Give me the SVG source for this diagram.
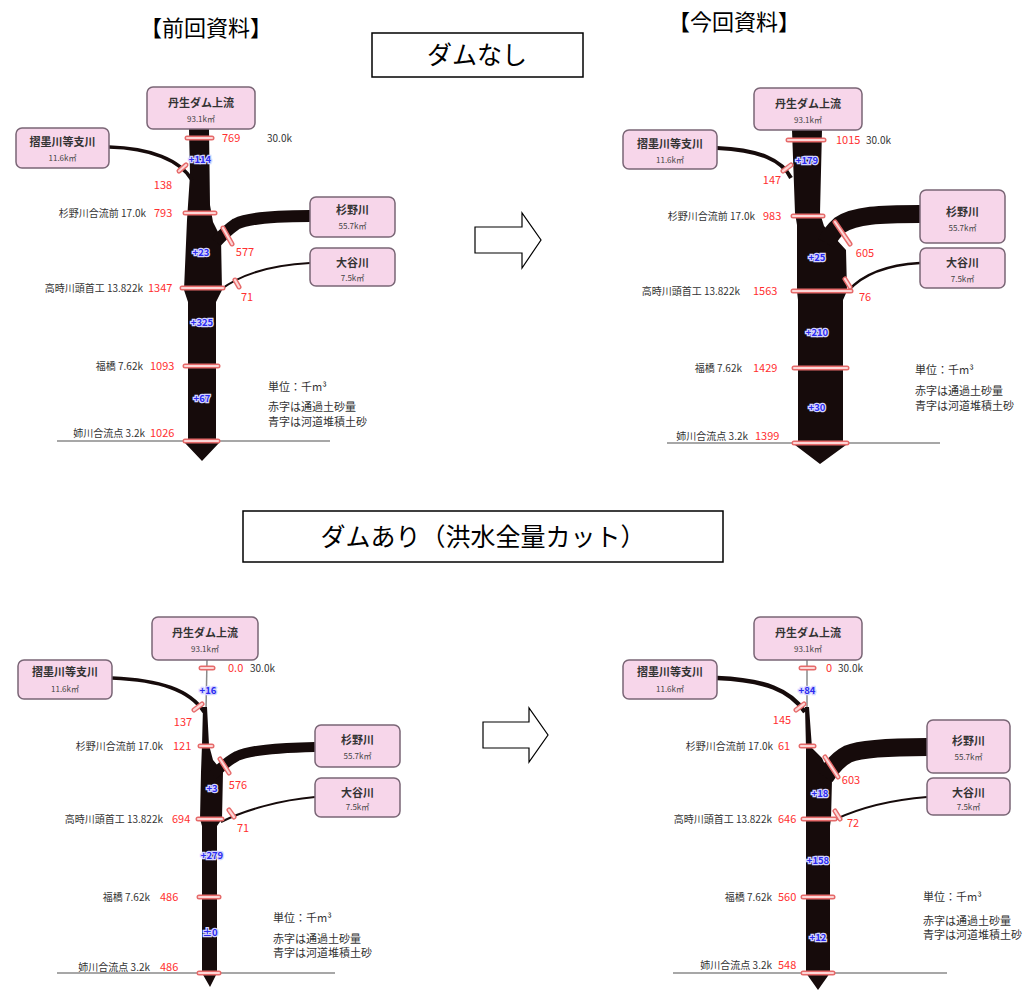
<svg xmlns="http://www.w3.org/2000/svg" width="1030" height="992" viewBox="0 0 1030 992">
<style>
text{font-family:"Noto Sans CJK JP","Noto Sans",sans-serif;}
.ttl{font-size:22px;fill:#000;}
.hb{font-size:25px;fill:#000;text-anchor:middle;}
.box{fill:#fff;stroke:#000;stroke-width:1.5;}
.nd{fill:#f7d6ea;stroke:#7a6676;stroke-width:1.5;}
.nn{font-size:11px;font-weight:bold;fill:#333;text-anchor:middle;}
.na{font-size:8px;fill:#444;text-anchor:middle;}
.st{font-size:10px;fill:#333;text-anchor:end;}
.k{font-size:10px;fill:#333;}
.r{font-size:11px;fill:#ff3030;}
.rc{font-size:11px;fill:#ff3030;text-anchor:middle;}
.b{font-size:9.5px;font-weight:bold;fill:#2a2af0;text-anchor:middle;stroke:#d4d4ff;stroke-width:2.5;paint-order:stroke;}
.lg{font-size:11px;fill:#333;}
.trunk{fill:#160b0b;}
.trib{fill:none;stroke:#160b0b;stroke-linecap:butt;}
.stem{stroke:#8a8a8a;stroke-width:1.5;}
.base{stroke:#8a8a8a;stroke-width:1.5;}
.t1{stroke:#e66a6a;stroke-width:5;stroke-linecap:round;}
.t2{stroke:#fcd6d6;stroke-width:2.2;stroke-linecap:round;}
.arw{fill:#fff;stroke:#000;stroke-width:1.2;}
</style>

<!-- headings -->
<g id="headings">
<text class="ttl" x="140" y="36">【前回資料】</text>
<text class="ttl" x="668" y="30">【今回資料】</text>
<g id="case-nodam"><rect class="box" x="372" y="33" width="211" height="44"/><text class="hb" x="477" y="64">ダムなし</text></g>
<g id="case-dam"><rect class="box" x="243" y="511" width="480" height="51"/><text class="hb" x="483" y="546">ダムあり（洪水全量カット）</text></g>
</g>

<!-- arrows -->
<g id="arrows">
<path class="arw" d="M475,227 L522,227 L522,213 L541,240 L522,268 L522,253 L475,253 Z"/>
<path class="arw" d="M483,722 L529,722 L529,708 L548,735 L529,762 L529,748 L483,748 Z"/>
</g>

<!-- ================= TOP LEFT ================= -->
<g id="tl">
<g id="tl-rivers">
<line class="base" x1="57" y1="441" x2="330" y2="441"/>
<polygon class="trunk" points="189,129 209,129 210,205 213,222 221,238 222,290 216,302 216,443 219,443 202,461 185,443 188,443 188,302 184,290 187,220 190,175"/>
<g id="tl-connectors">
<path class="trib" stroke-width="3.5" d="M109,147 C150,148 180,160 192,180"/>
<path class="trib" stroke-width="12" d="M310,216 C275,216 248,218 236,224 Q226,231 216,242"/>
<path class="trib" stroke-width="2" d="M310,263 C270,265 240,275 220,290"/>
</g>
<g id="tl-ticks">
<line class="t1" x1="187" y1="138" x2="212" y2="138"/><line class="t2" x1="187" y1="138" x2="212" y2="138"/>
<line class="t1" x1="185" y1="213" x2="215" y2="213"/><line class="t2" x1="185" y1="213" x2="215" y2="213"/>
<line class="t1" x1="182" y1="288" x2="223" y2="288"/><line class="t2" x1="182" y1="288" x2="223" y2="288"/>
<line class="t1" x1="185" y1="366" x2="218" y2="366"/><line class="t2" x1="185" y1="366" x2="218" y2="366"/>
<line class="t1" x1="185" y1="441" x2="218" y2="441"/><line class="t2" x1="185" y1="441" x2="218" y2="441"/>
<line class="t1" x1="179" y1="171" x2="186" y2="165"/><line class="t2" x1="179" y1="171" x2="186" y2="165"/>
<line class="t1" x1="223" y1="228" x2="232" y2="244"/><line class="t2" x1="223" y1="228" x2="232" y2="244"/>
<line class="t1" x1="235" y1="280" x2="239" y2="287"/><line class="t2" x1="235" y1="280" x2="239" y2="287"/>
</g>
</g>
<g id="tl-dam"><rect class="nd" x="147" y="87" width="108" height="42" rx="6"/><text class="nn" x="201" y="107">丹生ダム上流</text><text class="na" x="201" y="122">93.1k㎡</text></g>
<g id="tl-suzumi"><rect class="nd" x="16" y="128" width="93" height="40" rx="6"/><text class="nn" x="62.5" y="146">摺墨川等支川</text><text class="na" x="62.5" y="161">11.6k㎡</text></g>
<g id="tl-sugino"><rect class="nd" x="310" y="197" width="85" height="40" rx="6"/><text class="nn" x="352.5" y="214">杉野川</text><text class="na" x="352.5" y="229">55.7k㎡</text></g>
<g id="tl-otani"><rect class="nd" x="310" y="248" width="85" height="38" rx="6"/><text class="nn" x="352.5" y="267">大谷川</text><text class="na" x="352.5" y="281">7.5k㎡</text></g>
<g id="tl-labels">
<text class="r" x="222" y="142">769</text><text class="k" x="267" y="142">30.0k</text>
<text class="rc" x="163" y="189">138</text>
<text class="st" x="146" y="217">杉野川合流前 17.0k</text><text class="r" x="154" y="217">793</text>
<text class="rc" x="245" y="256">577</text>
<text class="rc" x="247" y="301">71</text>
<text class="st" x="143" y="292">高時川頭首工 13.822k</text><text class="r" x="148" y="292">1347</text>
<text class="st" x="143" y="370">福橋 7.62k</text><text class="r" x="150" y="370">1093</text>
<text class="st" x="145" y="437">姉川合流点 3.2k</text><text class="r" x="150" y="437">1026</text>
<text class="b" x="200" y="163">+114</text>
<text class="b" x="201" y="256">+23</text>
<text class="b" x="202" y="326">+325</text>
<text class="b" x="202" y="402">+67</text>
<text class="lg" x="268" y="391">単位：千m³</text>
<text class="lg" x="268" y="411">赤字は通過土砂量</text>
<text class="lg" x="268" y="426">青字は河道堆積土砂</text>
</g>
</g>

<!-- ================= TOP RIGHT ================= -->
<g id="tr">
<g id="tr-rivers">
<line class="base" x1="667" y1="443" x2="940" y2="443"/>
<polygon class="trunk" points="792,130 822,130 820,213 824,226 846,250 847,291 843,300 843,445 846,445 820,464 795,445 798,445 798,300 797,291 797,225 795,213"/>
<g id="tr-connectors">
<path class="trib" stroke-width="4" d="M717,148 C760,150 782,160 791,178"/>
<path class="trib" stroke-width="18" d="M920,214 C880,214 855,215 840,225 Q832,232 826,243"/>
<path class="trib" stroke-width="2.5" d="M920,263 C885,265 862,275 848,291"/>
</g>
<g id="tr-ticks">
<line class="t1" x1="788" y1="140" x2="824" y2="140"/><line class="t2" x1="788" y1="140" x2="824" y2="140"/>
<line class="t1" x1="793" y1="216" x2="823" y2="216"/><line class="t2" x1="793" y1="216" x2="823" y2="216"/>
<line class="t1" x1="793" y1="291" x2="851" y2="291"/><line class="t2" x1="793" y1="291" x2="851" y2="291"/>
<line class="t1" x1="794" y1="368" x2="847" y2="368"/><line class="t2" x1="794" y1="368" x2="847" y2="368"/>
<line class="t1" x1="794" y1="443" x2="847" y2="443"/><line class="t2" x1="794" y1="443" x2="847" y2="443"/>
<line class="t1" x1="783" y1="171" x2="791" y2="165"/><line class="t2" x1="783" y1="171" x2="791" y2="165"/>
<line class="t1" x1="835" y1="222" x2="850" y2="244"/><line class="t2" x1="835" y1="222" x2="850" y2="244"/>
<line class="t1" x1="845" y1="279" x2="850" y2="287"/><line class="t2" x1="845" y1="279" x2="850" y2="287"/>
</g>
</g>
<g id="tr-dam"><rect class="nd" x="754" y="88" width="108" height="42" rx="6"/><text class="nn" x="808" y="108">丹生ダム上流</text><text class="na" x="808" y="123">93.1k㎡</text></g>
<g id="tr-suzumi"><rect class="nd" x="623" y="130" width="94" height="39" rx="6"/><text class="nn" x="670" y="148">摺墨川等支川</text><text class="na" x="670" y="163">11.6k㎡</text></g>
<g id="tr-sugino"><rect class="nd" x="920" y="190" width="85" height="53" rx="6"/><text class="nn" x="962.5" y="216">杉野川</text><text class="na" x="962.5" y="231">55.7k㎡</text></g>
<g id="tr-otani"><rect class="nd" x="920" y="248" width="85" height="40" rx="6"/><text class="nn" x="962.5" y="267">大谷川</text><text class="na" x="962.5" y="282">7.5k㎡</text></g>
<g id="tr-labels">
<text class="r" x="836" y="144">1015</text><text class="k" x="866" y="144">30.0k</text>
<text class="rc" x="772" y="184">147</text>
<text class="st" x="755" y="220">杉野川合流前 17.0k</text><text class="r" x="763" y="220">983</text>
<text class="rc" x="865" y="257">605</text>
<text class="rc" x="865" y="301">76</text>
<text class="st" x="740" y="295">高時川頭首工 13.822k</text><text class="r" x="753" y="295">1563</text>
<text class="st" x="742" y="372">福橋 7.62k</text><text class="r" x="753" y="372">1429</text>
<text class="st" x="748" y="440">姉川合流点 3.2k</text><text class="r" x="755" y="440">1399</text>
<text class="b" x="807" y="164">+179</text>
<text class="b" x="817" y="261">+25</text>
<text class="b" x="817" y="336">+210</text>
<text class="b" x="817" y="411">+30</text>
<text class="lg" x="915" y="374">単位：千m³</text>
<text class="lg" x="915" y="395">赤字は通過土砂量</text>
<text class="lg" x="915" y="410">青字は河道堆積土砂</text>
</g>
</g>

<!-- ================= BOTTOM LEFT ================= -->
<g id="bl">
<g id="bl-rivers">
<line class="base" x1="57" y1="973" x2="335" y2="973"/>
<line class="stem" x1="207" y1="660" x2="206" y2="710"/>
<polygon class="trunk" points="203,707 207,707 209,745 213,760 223,772 222,819 217,826 217,973 210,987 202,973 202,826 200,819 201,772 202,745"/>
<g id="bl-connectors">
<path class="trib" stroke-width="3.5" d="M112,678 C160,680 190,690 204,712"/>
<path class="trib" stroke-width="10" d="M315,747 C275,748 250,750 237,756 Q226,762 213,775"/>
<path class="trib" stroke-width="2" d="M315,797 C280,800 245,810 221,822"/>
</g>
<g id="bl-ticks">
<line class="t1" x1="201" y1="668" x2="213" y2="668"/><line class="t2" x1="201" y1="668" x2="213" y2="668"/>
<line class="t1" x1="200" y1="746" x2="212" y2="746"/><line class="t2" x1="200" y1="746" x2="212" y2="746"/>
<line class="t1" x1="198" y1="819" x2="222" y2="819"/><line class="t2" x1="198" y1="819" x2="222" y2="819"/>
<line class="t1" x1="199" y1="897" x2="219" y2="897"/><line class="t2" x1="199" y1="897" x2="219" y2="897"/>
<line class="t1" x1="199" y1="973" x2="219" y2="973"/><line class="t2" x1="199" y1="973" x2="219" y2="973"/>
<line class="t1" x1="194" y1="710" x2="202" y2="704"/><line class="t2" x1="194" y1="710" x2="202" y2="704"/>
<line class="t1" x1="220" y1="759" x2="229" y2="773"/><line class="t2" x1="220" y1="759" x2="229" y2="773"/>
<line class="t1" x1="229" y1="810" x2="234" y2="817"/><line class="t2" x1="229" y1="810" x2="234" y2="817"/>
</g>
</g>
<g id="bl-dam"><rect class="nd" x="152" y="617" width="106" height="43" rx="6"/><text class="nn" x="205" y="637">丹生ダム上流</text><text class="na" x="205" y="652">93.1k㎡</text></g>
<g id="bl-suzumi"><rect class="nd" x="18" y="660" width="94" height="39" rx="6"/><text class="nn" x="65" y="676">摺墨川等支川</text><text class="na" x="65" y="692">11.6k㎡</text></g>
<g id="bl-sugino"><rect class="nd" x="315" y="725" width="85" height="42" rx="6"/><text class="nn" x="357.5" y="744">杉野川</text><text class="na" x="357.5" y="759">55.7k㎡</text></g>
<g id="bl-otani"><rect class="nd" x="315" y="778" width="85" height="39" rx="6"/><text class="nn" x="357.5" y="797">大谷川</text><text class="na" x="357.5" y="810">7.5k㎡</text></g>
<g id="bl-labels">
<text class="r" x="228" y="672">0.0</text><text class="k" x="250" y="672">30.0k</text>
<text class="b" x="208" y="694">+16</text>
<text class="rc" x="183" y="726">137</text>
<text class="st" x="163" y="750">杉野川合流前 17.0k</text><text class="r" x="173" y="750">121</text>
<text class="rc" x="238" y="789">576</text>
<text class="b" x="212" y="792">+3</text>
<text class="rc" x="243" y="832">71</text>
<text class="st" x="163" y="823">高時川頭首工 13.822k</text><text class="r" x="172" y="823">694</text>
<text class="b" x="212" y="859">+279</text>
<text class="st" x="150" y="901">福橋 7.62k</text><text class="r" x="160" y="901">486</text>
<text class="b" x="210" y="936">±0</text>
<text class="st" x="150" y="971">姉川合流点 3.2k</text><text class="r" x="160" y="971">486</text>
<text class="lg" x="273" y="922">単位：千m³</text>
<text class="lg" x="273" y="943">赤字は通過土砂量</text>
<text class="lg" x="273" y="957">青字は河道堆積土砂</text>
</g>
</g>

<!-- ================= BOTTOM RIGHT ================= -->
<g id="br">
<g id="br-rivers">
<line class="base" x1="673" y1="973" x2="947" y2="973"/>
<line class="stem" x1="807" y1="660" x2="807" y2="710"/>
<polygon class="trunk" points="805,707 809,707 812,748 822,758 832,780 831,819 830,826 830,973 818,990 806,973 806,826 806,819 806,760 806,748"/>
<g id="br-connectors">
<path class="trib" stroke-width="4.5" d="M717,678 C765,680 790,690 805,712"/>
<path class="trib" stroke-width="18" d="M927,747 C885,747 860,749 848,754 Q836,760 825,777"/>
<path class="trib" stroke-width="2" d="M927,797 C890,800 860,808 836,819"/>
</g>
<g id="br-ticks">
<line class="t1" x1="801" y1="668" x2="814" y2="668"/><line class="t2" x1="801" y1="668" x2="814" y2="668"/>
<line class="t1" x1="801" y1="746" x2="814" y2="746"/><line class="t2" x1="801" y1="746" x2="814" y2="746"/>
<line class="t1" x1="803" y1="819" x2="835" y2="819"/><line class="t2" x1="803" y1="819" x2="835" y2="819"/>
<line class="t1" x1="803" y1="897" x2="833" y2="897"/><line class="t2" x1="803" y1="897" x2="833" y2="897"/>
<line class="t1" x1="803" y1="973" x2="833" y2="973"/><line class="t2" x1="803" y1="973" x2="833" y2="973"/>
<line class="t1" x1="796" y1="710" x2="804" y2="704"/><line class="t2" x1="796" y1="710" x2="804" y2="704"/>
<line class="t1" x1="825" y1="757" x2="838" y2="777"/><line class="t2" x1="825" y1="757" x2="838" y2="777"/>
<line class="t1" x1="835" y1="811" x2="840" y2="819"/><line class="t2" x1="835" y1="811" x2="840" y2="819"/>
</g>
</g>
<g id="br-dam"><rect class="nd" x="754" y="617" width="108" height="43" rx="6"/><text class="nn" x="808" y="637">丹生ダム上流</text><text class="na" x="808" y="652">93.1k㎡</text></g>
<g id="br-suzumi"><rect class="nd" x="623" y="660" width="94" height="39" rx="6"/><text class="nn" x="670" y="676">摺墨川等支川</text><text class="na" x="670" y="692">11.6k㎡</text></g>
<g id="br-sugino"><rect class="nd" x="927" y="720" width="83" height="53" rx="6"/><text class="nn" x="968.5" y="745">杉野川</text><text class="na" x="968.5" y="760">55.7k㎡</text></g>
<g id="br-otani"><rect class="nd" x="927" y="778" width="83" height="37" rx="6"/><text class="nn" x="968.5" y="797">大谷川</text><text class="na" x="968.5" y="810">7.5k㎡</text></g>
<g id="br-labels">
<text class="r" x="826" y="672">0</text><text class="k" x="838" y="672">30.0k</text>
<text class="b" x="807" y="694">+84</text>
<text class="rc" x="782" y="724">145</text>
<text class="st" x="773" y="750">杉野川合流前 17.0k</text><text class="r" x="778" y="750">61</text>
<text class="rc" x="851" y="784">603</text>
<text class="b" x="820" y="797">+18</text>
<text class="rc" x="853" y="827">72</text>
<text class="st" x="772" y="823">高時川頭首工 13.822k</text><text class="r" x="778" y="823">646</text>
<text class="b" x="818" y="864">+158</text>
<text class="st" x="772" y="901">福橋 7.62k</text><text class="r" x="778" y="901">560</text>
<text class="b" x="818" y="941">+12</text>
<text class="st" x="772" y="969">姉川合流点 3.2k</text><text class="r" x="778" y="969">548</text>
<text class="lg" x="923" y="901">単位：千m³</text>
<text class="lg" x="923" y="925">赤字は通過土砂量</text>
<text class="lg" x="923" y="939">青字は河道堆積土砂</text>
</g>
</g>
</svg>
